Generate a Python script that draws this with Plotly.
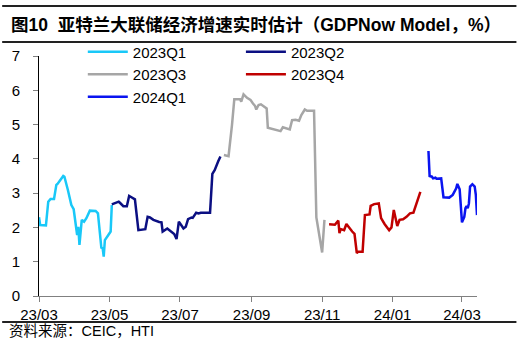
import plotly.graph_objects as go

# ---- data ----
q1_2023_dates = ["2023-03-01", "2023-03-02", "2023-03-07", "2023-03-09", "2023-03-11", "2023-03-14",
                 "2023-03-16", "2023-03-17", "2023-03-22", "2023-03-23", "2023-03-26", "2023-03-28",
                 "2023-03-29", "2023-03-31", "2023-04-03", "2023-04-04", "2023-04-05", "2023-04-07",
                 "2023-04-09", "2023-04-11", "2023-04-14", "2023-04-19", "2023-04-21", "2023-04-24",
                 "2023-04-25", "2023-04-26", "2023-04-27", "2023-04-30", "2023-05-02", "2023-05-03"]
q1_2023_vals = [2.30, 2.07, 2.06, 2.75, 2.83, 2.83, 3.24, 3.27, 3.50, 3.48, 3.09, 2.80,
                2.65, 2.53, 1.78, 2.02, 1.49, 2.22, 2.17, 2.27, 2.49, 2.48, 2.41, 1.39,
                1.42, 1.15, 1.63, 1.78, 1.88, 2.65]

q2_2023_dates = ["2023-05-03", "2023-05-07", "2023-05-09", "2023-05-10", "2023-05-13", "2023-05-16",
                 "2023-05-18", "2023-05-20", "2023-05-23", "2023-05-26", "2023-05-29", "2023-06-01",
                 "2023-06-03", "2023-06-05", "2023-06-08", "2023-06-11", "2023-06-13", "2023-06-15",
                 "2023-06-16", "2023-06-20", "2023-06-23", "2023-06-26", "2023-06-28", "2023-06-30",
                 "2023-07-02", "2023-07-04", "2023-07-06", "2023-07-08", "2023-07-11", "2023-07-12",
                 "2023-07-15", "2023-07-17", "2023-07-19", "2023-07-27", "2023-07-29", "2023-07-31",
                 "2023-08-03", "2023-08-05"]
q2_2023_vals = [2.67, 2.73, 2.75, 2.72, 2.62, 2.62, 2.92, 2.88, 2.82, 1.92, 1.94, 1.95,
                2.31, 2.29, 2.22, 2.17, 2.16, 2.15, 1.88, 1.97, 1.90, 1.81, 1.66, 2.17,
                2.07, 1.97, 2.02, 2.24, 2.29, 2.28, 2.43, 2.41, 2.43, 2.43, 3.56, 3.67,
                3.92, 4.07]

q3_2023_dates = ["2023-08-08", "2023-08-12", "2023-08-15", "2023-08-17", "2023-08-21", "2023-08-22",
                 "2023-08-23", "2023-08-25", "2023-08-28", "2023-08-31", "2023-09-02", "2023-09-04",
                 "2023-09-05", "2023-09-07", "2023-09-09", "2023-09-12", "2023-09-14", "2023-09-15",
                 "2023-09-18", "2023-09-22", "2023-09-26", "2023-09-28", "2023-10-01", "2023-10-04",
                 "2023-10-06", "2023-10-09", "2023-10-12", "2023-10-14", "2023-10-17", "2023-10-19",
                 "2023-10-25", "2023-10-27", "2023-11-01", "2023-11-03"]
q3_2023_vals = [4.11, 4.08, 4.99, 5.74, 5.74, 5.74, 5.67, 5.88, 5.78, 5.72, 5.62, 5.54,
                5.44, 5.57, 5.59, 5.52, 5.47, 4.91, 4.88, 4.84, 4.81, 4.92, 4.89, 4.86,
                5.13, 5.14, 5.11, 5.28, 5.44, 5.40, 5.40, 2.29, 1.27, 2.22]

q4_2023_dates = ["2023-11-07", "2023-11-12", "2023-11-15", "2023-11-16", "2023-11-17", "2023-11-20",
                 "2023-11-22", "2023-11-25", "2023-11-27", "2023-11-29", "2023-12-01", "2023-12-02",
                 "2023-12-06", "2023-12-08", "2023-12-12", "2023-12-13", "2023-12-16", "2023-12-20",
                 "2023-12-22", "2023-12-25", "2023-12-29", "2023-12-31", "2024-01-02", "2024-01-05",
                 "2024-01-07", "2024-01-10", "2024-01-13", "2024-01-16", "2024-01-19", "2024-01-25"]
q4_2023_vals = [2.09, 2.08, 2.20, 1.83, 1.95, 1.92, 2.10, 1.95, 1.88, 1.81, 1.25, 1.29,
                1.29, 2.36, 2.38, 2.63, 2.68, 2.70, 2.27, 2.10, 1.92, 2.00, 2.51, 2.04,
                2.22, 2.24, 2.31, 2.41, 2.43, 3.04]

q1_2024_dates = ["2024-02-01", "2024-02-02", "2024-02-04", "2024-02-05", "2024-02-07", "2024-02-08",
                 "2024-02-12", "2024-02-14", "2024-02-19", "2024-02-22", "2024-02-25", "2024-02-26",
                 "2024-02-28", "2024-03-01", "2024-03-03", "2024-03-04", "2024-03-05", "2024-03-06",
                 "2024-03-07", "2024-03-08", "2024-03-10", "2024-03-12", "2024-03-13", "2024-03-14"]
q1_2024_vals = [4.23, 3.50, 3.48, 3.43, 3.45, 3.42, 3.43, 2.88, 2.87, 2.95, 3.14, 3.27,
                3.11, 2.15, 2.31, 2.56, 2.62, 2.56, 2.70, 3.19, 3.26, 3.19, 2.95, 2.36]

series_names = ["2023Q1", "2023Q2", "2023Q3", "2023Q4", "2024Q1"]
series_colors = ["#19C8F8", "#0B0F82", "#A6A6A6", "#C00000", "#0A14F0"]
series_legend = ["legend", "legend2", "legend", "legend2", "legend"]

title_text = "<b>图10  亚特兰大联储经济增速实时估计（GDPNow Model，%）</b>"
source_text = "资料来源：CEIC，HTI"

FONT = "Liberation Sans, Arial, Noto Sans CJK SC, sans-serif"

fig = go.Figure()
all_dates = [q1_2023_dates, q2_2023_dates, q3_2023_dates, q4_2023_dates, q1_2024_dates]
all_vals = [q1_2023_vals, q2_2023_vals, q3_2023_vals, q4_2023_vals, q1_2024_vals]
for name, d, v, c, lg in zip(series_names, all_dates, all_vals, series_colors, series_legend):
    fig.add_trace(go.Scatter(x=d, y=v, mode="lines", name=name,
                             line=dict(color=c, width=2.5), legend=lg))

fig.update_layout(
    width=526, height=351,
    margin=dict(l=37, r=49, t=56, b=55),
    paper_bgcolor="white", plot_bgcolor="white",
    font=dict(family=FONT, size=15, color="black"),
    showlegend=True,
    legend=dict(x=0.10, y=1.085, xanchor="left", yanchor="top",
                bgcolor="rgba(0,0,0,0)", font=dict(size=15), tracegroupgap=0,
                itemwidth=40),
    legend2=dict(x=0.461, y=1.085, xanchor="left", yanchor="top",
                 bgcolor="rgba(0,0,0,0)", font=dict(size=15), tracegroupgap=0,
                 itemwidth=40),
)

fig.update_xaxes(
    range=["2023-03-01", "2024-03-14"],
    tick0="2023-03-01", dtick="M2", tickformat="%y/%m",
    ticks="outside", ticklen=5, tickcolor="#808080",
    showline=True, linecolor="#808080", linewidth=1,
    showgrid=False, zeroline=False,
    tickfont=dict(size=15),
)
fig.update_yaxes(
    range=[0, 7], dtick=1, tick0=0,
    ticks="outside", ticklen=5, tickcolor="#808080",
    showline=True, linecolor="black", linewidth=1,
    showgrid=False, zeroline=False,
    tickfont=dict(size=15), ticklabelstandoff=10,
)

# title / source rules and text
for yv in [1.2083, 1.0583, -0.1083]:
    fig.add_shape(type="line", xref="paper", yref="paper",
                  x0=-0.0841, x1=1.09, y0=yv, y1=yv,
                  line=dict(color="#222222", width=2))

fig.add_annotation(text=title_text, xref="paper", yref="paper",
                   x=-0.068, y=1.129, xanchor="left", yanchor="middle",
                   showarrow=False, font=dict(size=17.5, family=FONT))
fig.add_annotation(text=source_text, xref="paper", yref="paper",
                   x=-0.073, y=-0.146, xanchor="left", yanchor="middle",
                   showarrow=False, font=dict(size=14.5, family=FONT))

fig.write_html("out.html")
